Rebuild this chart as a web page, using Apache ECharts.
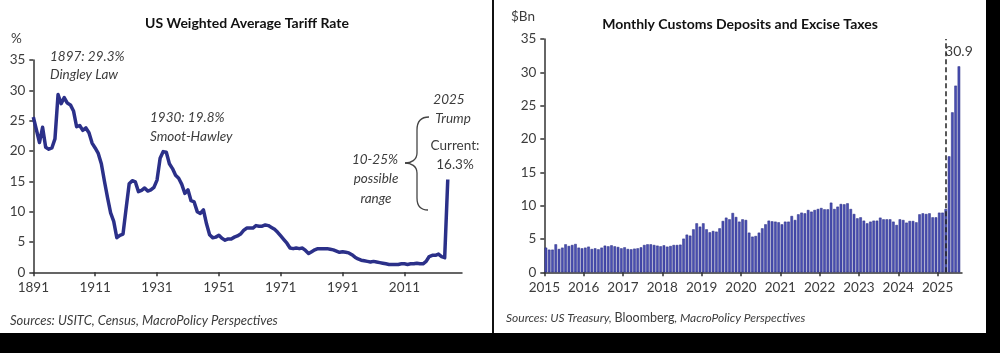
<!DOCTYPE html>
<html><head><meta charset="utf-8">
<script src="https://cdn.jsdelivr.net/npm/echarts@6/dist/echarts.min.js"></script>
<style>html,body{margin:0;padding:0;background:#fff}#c{width:1000px;height:353px}</style>
</head><body><div id="c"></div>
<script>
// ---- Left chart: US weighted average tariff rate (%) ----
const tariffYears = [
1891,1892,1893,1894,1895,1896,1897,1898,1899,1900,1901,1902,1903,1904,1905,1906,1907,1908,1909,1910,
1911,1912,1913,1914,1915,1916,1917,1918,1919,1920,1921,1922,1923,1924,1925,1926,1927,1928,1929,1930,
1931,1932,1933,1934,1935,1936,1937,1938,1939,1940,1941,1942,1943,1944,1945,1946,1947,1948,1949,1950,
1951,1952,1953,1954,1955,1956,1957,1958,1959,1960,1961,1962,1963,1964,1965,1966,1967,1968,1969,1970,
1971,1972,1973,1974,1975,1976,1977,1978,1979,1980,1981,1982,1983,1984,1985,1986,1987,1988,1989,1990,
1991,1992,1993,1994,1995,1996,1997,1998,1999,2000,2001,2002,2003,2004,2005,2006,2007,2008,2009,2010,
2011,2012,2013,2014,2015,2016,2017,2018,2019,2020,2021,2022,2023,2024,2025];
const tariffRates = [
25.6,23.5,21.4,23.9,20.6,20.3,20.5,22.0,29.3,27.8,28.8,27.9,27.6,26.6,24.0,24.2,23.4,23.8,23.0,21.3,
20.5,19.6,17.9,15.0,12.3,9.8,8.4,5.7,6.1,6.3,10.5,14.6,15.1,14.9,13.3,13.5,13.9,13.4,13.6,14.0,
15.2,18.8,19.9,19.8,17.9,17.1,16.0,15.5,14.5,13.0,13.6,11.8,11.6,10.0,9.7,10.3,8.0,6.2,5.7,5.8,
6.1,5.6,5.3,5.5,5.5,5.8,6.0,6.3,6.9,7.3,7.3,7.3,7.7,7.6,7.6,7.8,7.7,7.4,7.1,6.6,
6.0,5.4,4.8,4.0,3.9,4.0,3.9,4.0,3.6,3.1,3.4,3.7,3.9,3.9,3.9,3.9,3.8,3.7,3.5,3.3,
3.4,3.3,3.2,2.9,2.5,2.2,2.0,1.9,1.8,1.7,1.8,1.7,1.6,1.5,1.4,1.3,1.3,1.3,1.3,1.4,
1.4,1.3,1.4,1.4,1.5,1.4,1.4,1.8,2.6,2.8,2.8,3.0,2.6,2.4,15.3];

// ---- Right chart: monthly customs deposits and excise taxes ($Bn), Jan 2015 - Jul 2025 ----
const customsStartYear = 2015;
const customsValues = [
3.7,3.4,3.4,4.2,3.5,3.7,4.2,3.95,4.1,4.25,3.7,3.6,
3.7,3.85,3.5,3.6,3.45,3.7,4.0,3.9,4.05,3.9,3.8,3.6,
3.75,3.5,3.45,3.55,3.6,3.75,4.1,4.2,4.2,4.1,4.0,3.9,
4.05,3.85,3.95,4.1,4.1,4.15,5.05,5.65,5.5,6.45,7.35,6.85,
7.35,6.45,6.0,6.2,6.1,6.6,7.7,8.2,7.95,8.9,8.3,7.6,
7.95,7.85,5.95,5.35,5.45,5.95,6.6,7.2,7.75,7.65,7.6,7.5,
7.2,7.6,7.6,8.45,7.85,8.7,8.95,8.85,9.35,9.1,9.35,9.5,
9.65,9.45,9.45,10.45,9.5,9.85,10.25,10.2,10.35,9.5,8.75,8.1,
8.25,7.75,7.35,7.6,7.75,7.75,8.2,7.95,7.95,7.95,7.6,7.1,
7.95,7.85,7.45,7.7,7.7,7.5,8.7,8.85,8.75,8.85,8.25,8.25,
8.95,8.95,9.5,17.4,24.0,28.0,30.9];
const tariffPolicyDate = 2025.2; // dashed marker (April 2025)

const FONT = 'Lato, "Noto Sans", sans-serif';
const TXT = '#3c3c3c';
const AXIS = '#333';

const lastIdx = customsValues.length - 1;
const barData = customsValues.map((v, i) => {
  const item = { value: [customsStartYear + (i + 0.5) / 12, v] };
  if (i === lastIdx) {
    item.label = { show: true, position: 'top', distance: 8, color: TXT, fontSize: 14, fontFamily: FONT,
      formatter: p => p.value[1].toFixed(1) };
  }
  return item;
});

function axisCommon() {
  return {
    axisLine: { show: true, onZero: false, lineStyle: { color: AXIS, width: 1.5 } },
    axisTick: { show: true, length: 4, lineStyle: { color: AXIS, width: 1.5 } },
    splitLine: { show: false },
    axisLabel: { color: TXT, fontSize: 13.5, fontFamily: FONT, showMaxLabel: false, formatter: v => String(v) }
  };
}
function yAxisCommon() {
  const a = axisCommon();
  a.axisLabel.showMaxLabel = true;
  return a;
}

const chart = echarts.init(document.getElementById('c'));
function txt(x, y, text, opts) {
  opts = opts || {};
  return { type: 'text', x: x, y: y, silent: true,
    style: Object.assign({ text: text, fill: TXT, font: (opts.font || '13.5px ' + FONT),
      align: opts.align || 'center', verticalAlign: 'middle',
      textAlign: opts.align || 'center', textVerticalAlign: 'middle' }, opts.style || {}) };
}
const it = 'italic 13.5px ' + FONT;
const braceStyle = { stroke: '#444', lineWidth: 1.3, fill: 'none' };

chart.setOption({
  animation: false,
  backgroundColor: '#fff',
  textStyle: { fontFamily: FONT },
  grid: [
    { left: 33.3, top: 60, width: 428.7, height: 212.3 },
    { left: 544.3, top: 39, width: 417.7, height: 233.3 }
  ],
  xAxis: [
    Object.assign(axisCommon(), { type: 'value', gridIndex: 0, min: 1891, max: 2029.6, interval: 20 }),
    Object.assign(axisCommon(), { type: 'value', gridIndex: 1, min: 2015, max: 2025.62, interval: 1 })
  ],
  yAxis: [
    Object.assign(yAxisCommon(), { type: 'value', gridIndex: 0, min: 0, max: 35, interval: 5 }),
    Object.assign(yAxisCommon(), { type: 'value', gridIndex: 1, min: 0, max: 35, interval: 5 })
  ],
  series: [
    { type: 'line', xAxisIndex: 0, yAxisIndex: 0, showSymbol: false, silent: true,
      data: tariffYears.map((y, i) => [y, tariffRates[i]]),
      lineStyle: { color: '#2b3089', width: 3.5, join: 'round' } },
    { type: 'bar', xAxisIndex: 1, yAxisIndex: 1, barWidth: 2.6, silent: true,
      data: barData,
      itemStyle: { color: '#4a4fb2', borderColor: '#262a80', borderWidth: 0.5 },
      markLine: { silent: true, symbol: ['none', 'none'], label: { show: false },
        lineStyle: { color: '#222', width: 1.5, type: [5, 3] },
        data: [{ xAxis: tariffPolicyDate }] } }
  ],
  graphic: [
    txt(247, 23, 'US Weighted Average Tariff Rate', { font: 'bold 14px ' + FONT, style: { fill: '#111' } }),
    txt(740, 24, 'Monthly Customs Deposits and Excise Taxes', { font: 'bold 14px ' + FONT, style: { fill: '#111' } }),
    txt(11, 39, '%', { align: 'left' }),
    txt(511, 17, '$Bn', { align: 'left' }),
    txt(50, 57, '1897: 29.3%', { align: 'left', font: it }),
    txt(50, 75, 'Dingley Law', { align: 'left', font: it }),
    txt(150, 118, '1930: 19.8%', { align: 'left', font: it }),
    txt(150, 137, 'Smoot-Hawley', { align: 'left', font: it }),
    txt(449, 100, '2025', { font: it }),
    txt(453, 119, 'Trump', { font: it }),
    txt(455, 146, 'Current:'),
    txt(455, 165, '16.3%'),
    txt(375, 160, '10-25%', { font: it }),
    txt(376, 179, 'possible', { font: it }),
    txt(376, 199, 'range', { font: it }),
    { type: 'bezierCurve', silent: true, shape: { x1: 429, y1: 117, x2: 417, y2: 130, cpx1: 420, cpy1: 117, cpx2: 417, cpy2: 122 }, style: braceStyle },
    { type: 'line', silent: true, shape: { x1: 417, y1: 130, x2: 417, y2: 153 }, style: braceStyle },
    { type: 'bezierCurve', silent: true, shape: { x1: 417, y1: 153, x2: 405, y2: 163, cpx1: 417, cpy1: 160, cpx2: 411, cpy2: 163 }, style: braceStyle },
    { type: 'bezierCurve', silent: true, shape: { x1: 405, y1: 163, x2: 417, y2: 173, cpx1: 411, cpy1: 163, cpx2: 417, cpy2: 166 }, style: braceStyle },
    { type: 'line', silent: true, shape: { x1: 417, y1: 173, x2: 417, y2: 198 }, style: braceStyle },
    { type: 'bezierCurve', silent: true, shape: { x1: 417, y1: 198, x2: 428, y2: 210, cpx1: 417, cpy1: 206, cpx2: 420, cpy2: 210 }, style: braceStyle },
    txt(10, 321, 'Sources: USITC, Census, MacroPolicy Perspectives', { align: 'left', font: 'italic 13px ' + FONT }),
    { type: 'text', x: 506, y: 318, silent: true,
      style: { text: '{i|Sources: US Treasury, }{b|Bloomberg}{i|, MacroPolicy Perspectives}',
        align: 'left', verticalAlign: 'middle', textAlign: 'left', textVerticalAlign: 'middle',
        rich: { i: { fontStyle: 'italic', fontSize: 12, fontFamily: FONT, fill: TXT, color: TXT },
                b: { fontStyle: 'normal', fontSize: 12.5, fontFamily: FONT, fill: TXT, color: TXT } } } },
    { type: 'rect', silent: true, shape: { x: 492, y: 0, width: 2, height: 333 }, style: { fill: '#111' } },
    { type: 'rect', silent: true, shape: { x: 986, y: 0, width: 14, height: 353 }, style: { fill: '#000' } },
    { type: 'rect', silent: true, shape: { x: 0, y: 333, width: 1000, height: 20 }, style: { fill: '#000' } }
  ]
});
</script></body></html>
